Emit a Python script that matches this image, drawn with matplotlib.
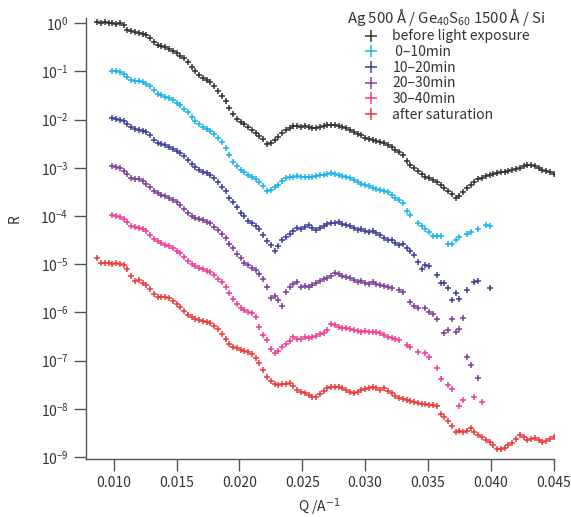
import numpy as np
import matplotlib
matplotlib.use('Agg')
import matplotlib.pyplot as plt
from matplotlib.ticker import NullLocator, FixedLocator, FormatStrFormatter

plt.rcParams['font.family'] = ['Noto Sans CJK JP', 'DejaVu Sans']

nan = np.nan

# Q grid (1/A)
q = [0.0087, 0.0090, 0.0093, 0.0096, 0.0099, 0.0102, 0.0105, 0.0108, 0.0111, 0.0114,
     0.0117, 0.0120, 0.0123, 0.0126, 0.0129, 0.0132, 0.0135, 0.0138, 0.0141, 0.0144,
     0.0147, 0.0150, 0.0153, 0.0156, 0.0159, 0.0162, 0.0165, 0.0168, 0.0171, 0.0174,
     0.0177, 0.0180, 0.0183, 0.0186, 0.0189, 0.0192, 0.0195, 0.0198, 0.0201, 0.0204,
     0.0207, 0.0210, 0.0213, 0.0216, 0.0219, 0.0222, 0.0225, 0.0228, 0.0231, 0.0234,
     0.0237, 0.0240, 0.0243, 0.0246, 0.0249, 0.0252, 0.0255, 0.0258, 0.0261, 0.0264,
     0.0267, 0.0270, 0.0273, 0.0276, 0.0279, 0.0282, 0.0285, 0.0288, 0.0291, 0.0294,
     0.0297, 0.0300, 0.0303, 0.0306, 0.0309, 0.0312, 0.0315, 0.0318, 0.0321, 0.0324,
     0.0327, 0.0330, 0.0333, 0.0336, 0.0339, 0.0342, 0.0345, 0.0348, 0.0351, 0.0354,
     0.0357, 0.0360, 0.0363, 0.0366, 0.0369, 0.0372, 0.0375, 0.0378, 0.0381, 0.0384,
     0.0387, 0.0390, 0.0393, 0.0396, 0.0399, 0.0402, 0.0405, 0.0408, 0.0411, 0.0414,
     0.0417, 0.0420, 0.0423, 0.0426, 0.0429, 0.0432, 0.0435, 0.0438, 0.0441, 0.0444,
     0.0447, 0.0450]

# log10(R) for each measurement (nan = no point)
logr_before = [0.03, 0.01, 0.02, 0.00, 0.01, -0.01, 0.00, -0.04, -0.13, -0.17,
               -0.19, -0.20, -0.22, -0.24, -0.31, -0.39, -0.45, -0.47, -0.49, -0.53,
               -0.57, -0.62, -0.67, -0.73, -0.81, -0.90, -0.99, -1.07, -1.13, -1.17,
               -1.21, -1.31, -1.41, -1.50, -1.62, -1.76, -1.89, -1.98, -2.04, -2.09,
               -2.15, -2.21, -2.27, -2.34, -2.41, -2.50, -2.49, -2.42, -2.36, -2.28,
               -2.21, -2.17, -2.14, -2.13, -2.15, -2.14, -2.16, -2.17, -2.18, -2.16,
               -2.14, -2.12, -2.11, -2.11, -2.13, -2.15, -2.18, -2.21, -2.25, -2.29,
               -2.32, -2.37, -2.40, -2.43, -2.45, -2.47, -2.49, -2.52, -2.57, -2.63,
               -2.68, -2.73, -2.86, -2.93, -3.00, -3.06, -3.12, -3.18, -3.21, -3.25,
               -3.29, -3.35, -3.42, -3.48, -3.55, -3.62, -3.58, -3.50, -3.42, -3.36,
               -3.29, -3.24, -3.20, -3.16, -3.14, -3.12, -3.10, -3.09, -3.08, -3.06,
               -3.05, -3.03, -3.00, -2.97, -2.94, -2.93, -2.96, -3.01, -3.04, -3.06,
               -3.09, -3.13]

logr_0_10 = [nan, nan, nan, nan, -0.99, -1.00, -1.02, -1.05, -1.12, -1.17,
             -1.19, -1.19, -1.22, -1.26, -1.31, -1.39, -1.46, -1.49, -1.52, -1.55,
             -1.60, -1.65, -1.70, -1.77, -1.85, -1.94, -2.02, -2.09, -2.15, -2.19,
             -2.23, -2.29, -2.38, -2.47, -2.58, -2.74, -2.87, -2.97, -3.04, -3.09,
             -3.14, -3.19, -3.24, -3.30, -3.38, -3.47, -3.46, -3.40, -3.35, -3.28,
             -3.22, -3.19, -3.18, -3.17, -3.19, -3.18, -3.19, -3.18, -3.17, -3.15,
             -3.14, -3.12, -3.10, -3.12, -3.14, -3.16, -3.18, -3.22, -3.26, -3.29,
             -3.33, -3.36, -3.38, -3.41, -3.43, -3.45, -3.47, -3.50, -3.57, -3.62,
             -3.67, -3.73, -3.90, -3.97, nan, -4.14, -4.20, -4.27, -4.34, -4.41,
             -4.42, -4.42, nan, -4.57, -4.57, -4.50, -4.44, nan, -4.38, -4.33,
             nan, -4.26, nan, -4.18, -4.21, nan, nan, nan, nan, nan,
             nan, nan, nan, nan, nan, nan, nan, nan, nan, nan,
             nan, nan]

logr_10_20 = [nan, nan, nan, nan, -1.97, -1.98, -2.00, -2.03, -2.08, -2.15,
              -2.19, -2.21, -2.23, -2.26, -2.32, -2.43, -2.48, -2.50, -2.52, -2.56,
              -2.60, -2.64, -2.69, -2.76, -2.84, -2.92, -2.98, -3.04, -3.08, -3.11,
              -3.14, -3.22, -3.30, -3.40, -3.47, -3.62, -3.70, -3.82, -3.93, -4.00,
              -4.10, -4.14, -4.20, -4.27, -4.40, -4.52, -4.60, -4.72, -4.62, -4.50,
              -4.44, -4.38, -4.30, -4.25, -4.27, -4.22, -4.18, -4.24, -4.29, -4.24,
              -4.20, -4.17, -4.14, -4.15, -4.13, -4.16, -4.18, -4.20, -4.24, -4.28,
              -4.26, -4.31, -4.32, -4.30, -4.36, -4.40, -4.46, -4.50, -4.49, -4.56,
              -4.60, -4.58, -4.66, -4.72, -4.80, -4.95, -5.10, -5.01, -5.04, nan,
              -5.22, -5.39, -5.39, -5.50, -5.74, -5.59, -5.73, nan, -5.53, nan,
              -5.36, -5.34, nan, nan, -5.49, nan, nan, nan, nan, nan,
              nan, nan, nan, nan, nan, nan, nan, nan, nan, nan,
              nan, nan]

logr_20_30 = [nan, nan, nan, nan, -2.97, -2.98, -3.01, -3.06, -3.13, -3.20,
              -3.23, -3.24, -3.27, -3.33, -3.40, -3.47, -3.52, -3.56, -3.59, -3.63,
              -3.67, -3.71, -3.77, -3.85, -3.93, -3.99, -4.03, -4.06, -4.09, -4.12,
              -4.14, -4.22, -4.29, -4.37, -4.46, -4.58, -4.66, -4.78, -4.88, -4.97,
              -5.02, -5.07, -5.12, -5.20, -5.30, -5.48, -5.70, -5.66, -5.74, -5.86,
              -5.57, -5.47, -5.40, -5.36, -5.48, -5.45, -5.47, -5.42, -5.39, -5.35,
              -5.31, -5.28, -5.24, -5.19, -5.21, -5.24, -5.27, -5.29, -5.33, -5.36,
              -5.34, -5.38, -5.40, -5.37, -5.41, -5.43, -5.45, -5.47, -5.50, nan,
              -5.54, -5.57, nan, -5.78, -5.87, -5.91, nan, -5.91, -6.00, -6.04,
              -6.14, nan, -6.43, -6.36, -6.14, -6.40, -6.35, -6.12, -6.93, -7.09,
              nan, -7.35, nan, nan, nan, nan, nan, nan, nan, nan,
              nan, nan, nan, nan, nan, nan, nan, nan, nan, nan,
              nan, nan]

logr_30_40 = [nan, nan, nan, nan, -3.98, -3.99, -4.01, -4.06, -4.13, -4.20,
              -4.23, -4.24, -4.26, -4.31, -4.39, -4.47, -4.52, -4.56, -4.59, -4.63,
              -4.67, -4.72, -4.77, -4.85, -4.93, -4.99, -5.03, -5.07, -5.10, -5.13,
              -5.16, -5.23, -5.30, -5.37, -5.47, -5.60, -5.72, -5.82, -5.90, -5.95,
              -5.98, -6.02, -6.10, -6.30, -6.46, -6.58, -6.76, -6.84, -6.80, -6.72,
              -6.66, -6.60, -6.50, -6.56, -6.55, -6.50, -6.52, -6.50, -6.48, -6.45,
              -6.42, -6.36, -6.24, -6.27, -6.30, -6.33, -6.32, -6.35, -6.37, -6.39,
              -6.40, -6.38, -6.40, -6.41, -6.40, -6.43, -6.47, -6.50, -6.52, -6.55,
              -6.57, nan, -6.68, -6.72, nan, -6.81, nan, -6.85, -6.93, nan,
              -7.16, -7.37, nan, -7.50, -7.58, nan, -7.95, -7.82, nan, nan,
              -7.75, nan, -7.85, nan, nan, nan, nan, nan, nan, nan,
              nan, nan, nan, nan, nan, nan, nan, nan, nan, nan,
              nan, nan]

logr_after = [-4.88, -4.97, -4.98, -4.98, -4.99, -4.98, -4.99, -5.02, -5.10, -5.25,
              -5.34, -5.32, -5.38, -5.44, -5.52, -5.62, -5.68, -5.68, -5.68, -5.70,
              -5.76, -5.82, -5.88, -5.97, -6.05, -6.10, -6.13, -6.15, -6.17, -6.19,
              -6.22, -6.28, -6.35, -6.44, -6.56, -6.66, -6.72, -6.74, -6.77, -6.80,
              -6.82, -6.87, -6.95, -7.05, -7.20, -7.34, -7.42, -7.48, -7.50, -7.48,
              -7.49, -7.47, -7.52, -7.60, -7.66, -7.68, -7.72, -7.75, -7.76, -7.70,
              -7.63, -7.57, -7.54, -7.54, -7.54, -7.56, -7.60, -7.65, -7.68, -7.66,
              -7.61, -7.58, -7.56, -7.55, -7.56, -7.60, -7.57, -7.62, -7.68, -7.74,
              -7.77, -7.79, -7.82, -7.84, -7.86, -7.88, -7.90, -7.90, -7.92, -7.93,
              -7.95, -8.10, -8.17, -8.25, -8.35, -8.47, -8.46, -8.47, -8.45, -8.40,
              -8.48, -8.54, -8.58, -8.64, -8.68, -8.76, -8.83, -8.84, -8.82, -8.75,
              -8.71, -8.63, -8.55, -8.58, -8.64, -8.62, -8.60, -8.64, -8.68, -8.66,
              -8.62, -8.58]

labels = ['before light exposure', ' 0\u201310min', '10\u201320min',
          '20\u201330min', '30\u201340min', 'after saturation']
colors = ['#333333', '#1ab4ec', '#40409a', '#7f3f98', '#ee3e96', '#ee3a3a']
series = [logr_before, logr_0_10, logr_10_20, logr_20_30, logr_30_40, logr_after]

fig = plt.figure(figsize=(5.71, 5.17), dpi=100)
ax = fig.add_axes([0.1506, 0.1122, 0.8191, 0.853])

for vals, lab, col in zip(series, labels, colors):
    r = 10 ** np.array(vals, dtype=float)
    ax.plot(q, r, linestyle='none', marker='+', markersize=4.5, markeredgewidth=1.1,
            color=col, label=lab)

ax.set_yscale('log')
ax.set_xlim(0.0078, 0.045)
ax.set_ylim(10 ** -9.04, 10 ** 0.11)
ax.yaxis.set_major_locator(FixedLocator([10.0 ** -k for k in range(10)]))
ax.yaxis.set_minor_locator(NullLocator())
ax.set_xticks([0.010, 0.015, 0.020, 0.025, 0.030, 0.035, 0.040, 0.045])
ax.xaxis.set_major_formatter(FormatStrFormatter('%.3f'))

for s in ['top', 'right']:
    ax.spines[s].set_visible(False)
for s in ['left', 'bottom']:
    ax.spines[s].set_color('#555555')
    ax.spines[s].set_linewidth(1.0)
ax.tick_params(direction='out', length=8.5, width=1.0, color='#555555',
               labelcolor='#333333', labelsize=10, pad=4)

ax.set_xlabel('Q /A$^{-1}$', fontsize=10, color='#333333')
ax.set_ylabel('R', fontsize=10, color='#333333')
ax.yaxis.set_label_coords(-0.138, 0.546)

leg = ax.legend(loc='upper right', bbox_to_anchor=(0.995, 1.038), frameon=False,
                title='Ag 500 \u00c5 / Ge$\\mathregular{_{40}}$S$\\mathregular{_{60}}$ 1500 \u00c5 / Si',
                fontsize=10, title_fontsize=10.8, markerscale=2.0, handlelength=1.2,
                handletextpad=0.9, labelspacing=0.12, borderaxespad=0.0)
for t in leg.get_texts():
    t.set_color('#333333')
leg.get_title().set_color('#333333')

fig.savefig('out.png', dpi=100)
